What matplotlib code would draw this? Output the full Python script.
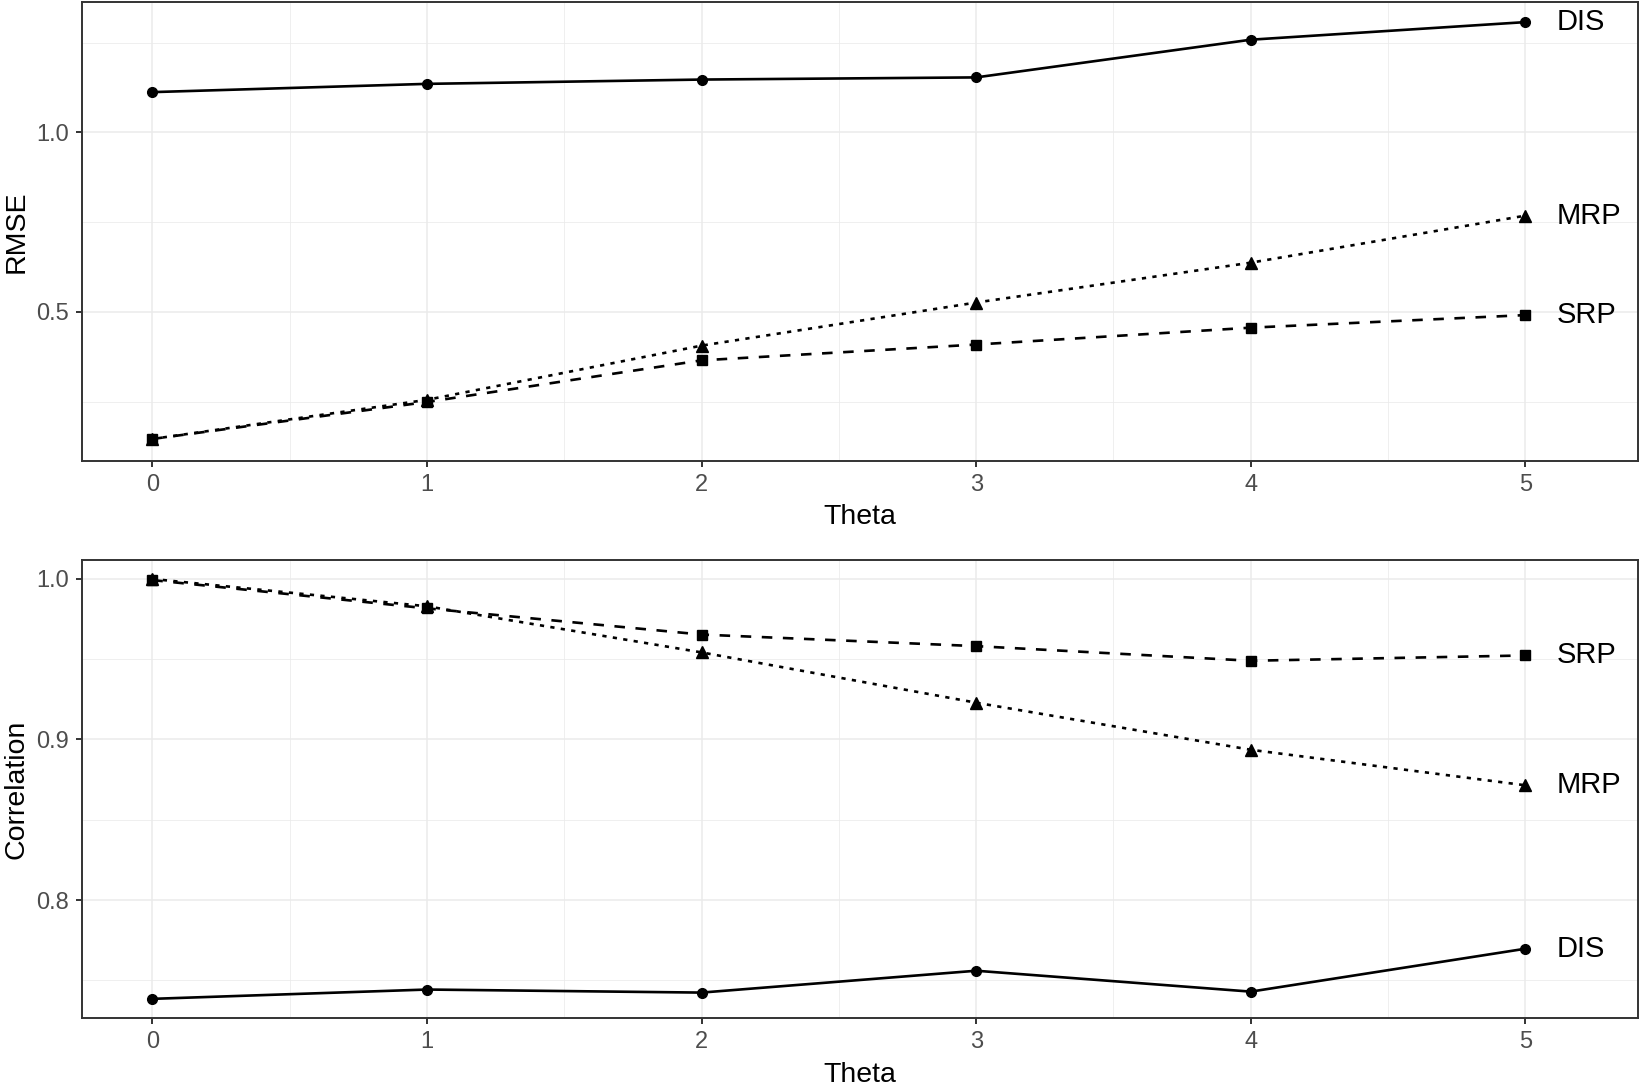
import matplotlib
matplotlib.use("Agg")
import matplotlib.pyplot as plt
from matplotlib.ticker import MultipleLocator, FormatStrFormatter

plt.rcParams['font.family'] = ['Liberation Sans', 'DejaVu Sans']

# data
theta = [0, 1, 2, 3, 4, 5]
rmse_dis = [1.112, 1.135, 1.147, 1.153, 1.258, 1.307]
rmse_mrp = [0.146, 0.255, 0.406, 0.526, 0.637, 0.768]
rmse_srp = [0.146, 0.249, 0.365, 0.409, 0.456, 0.491]
cor_dis = [0.7385, 0.7443, 0.7424, 0.7560, 0.7430, 0.7697]
cor_mrp = [0.9998, 0.9828, 0.9541, 0.9228, 0.8935, 0.8714]
cor_srp = [0.9991, 0.9815, 0.9652, 0.9580, 0.9489, 0.9522]

W, H = 1642, 1085
fig = plt.figure(figsize=(W / 100, H / 100), dpi=100)

def px_axes(left, top, right, bottom):
    return fig.add_axes([left / W, 1 - bottom / H, (right - left) / W, (bottom - top) / H])

ax1 = px_axes(82, 2, 1638, 460.7)
ax2 = px_axes(82, 560, 1638, 1018.3)

styles = {
    'DIS': dict(ls='-', marker='o', ms=7),
    'SRP': dict(ls=(0, (4, 4)), marker='s', ms=6.5),
    'MRP': dict(ls=(0, (1.6, 2.4)), marker='^', ms=8),
}

def panel(ax, series, ylab, ylim, major, minor):
    for name, vals in series:
        st = styles[name]
        ax.plot(theta, vals, color='black', lw=1.9, linestyle=st['ls'],
                marker=st['marker'], markersize=st['ms'], zorder=3)
        ax.text(5.115, vals[-1], name, ha='left', va='center', fontsize=21, color='black')
    ax.set_xlim(-0.256, 5.41)
    ax.set_ylim(*ylim)
    ax.xaxis.set_major_locator(MultipleLocator(1))
    ax.xaxis.set_minor_locator(MultipleLocator(0.5))
    ax.yaxis.set_major_locator(MultipleLocator(major))
    ax.yaxis.set_minor_locator(MultipleLocator(minor))
    ax.yaxis.set_major_formatter(FormatStrFormatter('%.1f'))
    ax.grid(which='major', color='#EBEBEB', lw=1.1, zorder=0)
    ax.grid(which='minor', color='#EBEBEB', lw=0.55, zorder=0)
    ax.set_axisbelow(True)
    for s in ax.spines.values():
        s.set_color('#333333')
        s.set_linewidth(1.4)
    ax.tick_params(which='major', length=4.3, width=1.4, color='#333333',
                   labelsize=17, labelcolor='#4D4D4D', pad=5)
    ax.tick_params(which='minor', length=0)
    ax.set_xlabel('Theta', fontsize=20.5, labelpad=6)
    ax.set_ylabel(ylab, fontsize=20.5, labelpad=5)

panel(ax1, [('DIS', rmse_dis), ('MRP', rmse_mrp), ('SRP', rmse_srp)],
      'RMSE', (0.0855, 1.363), 0.5, 0.25)
panel(ax2, [('DIS', cor_dis), ('MRP', cor_mrp), ('SRP', cor_srp)],
      'Correlation', (0.7264, 1.0116), 0.1, 0.05)

fig.savefig('out.png', dpi=100)
